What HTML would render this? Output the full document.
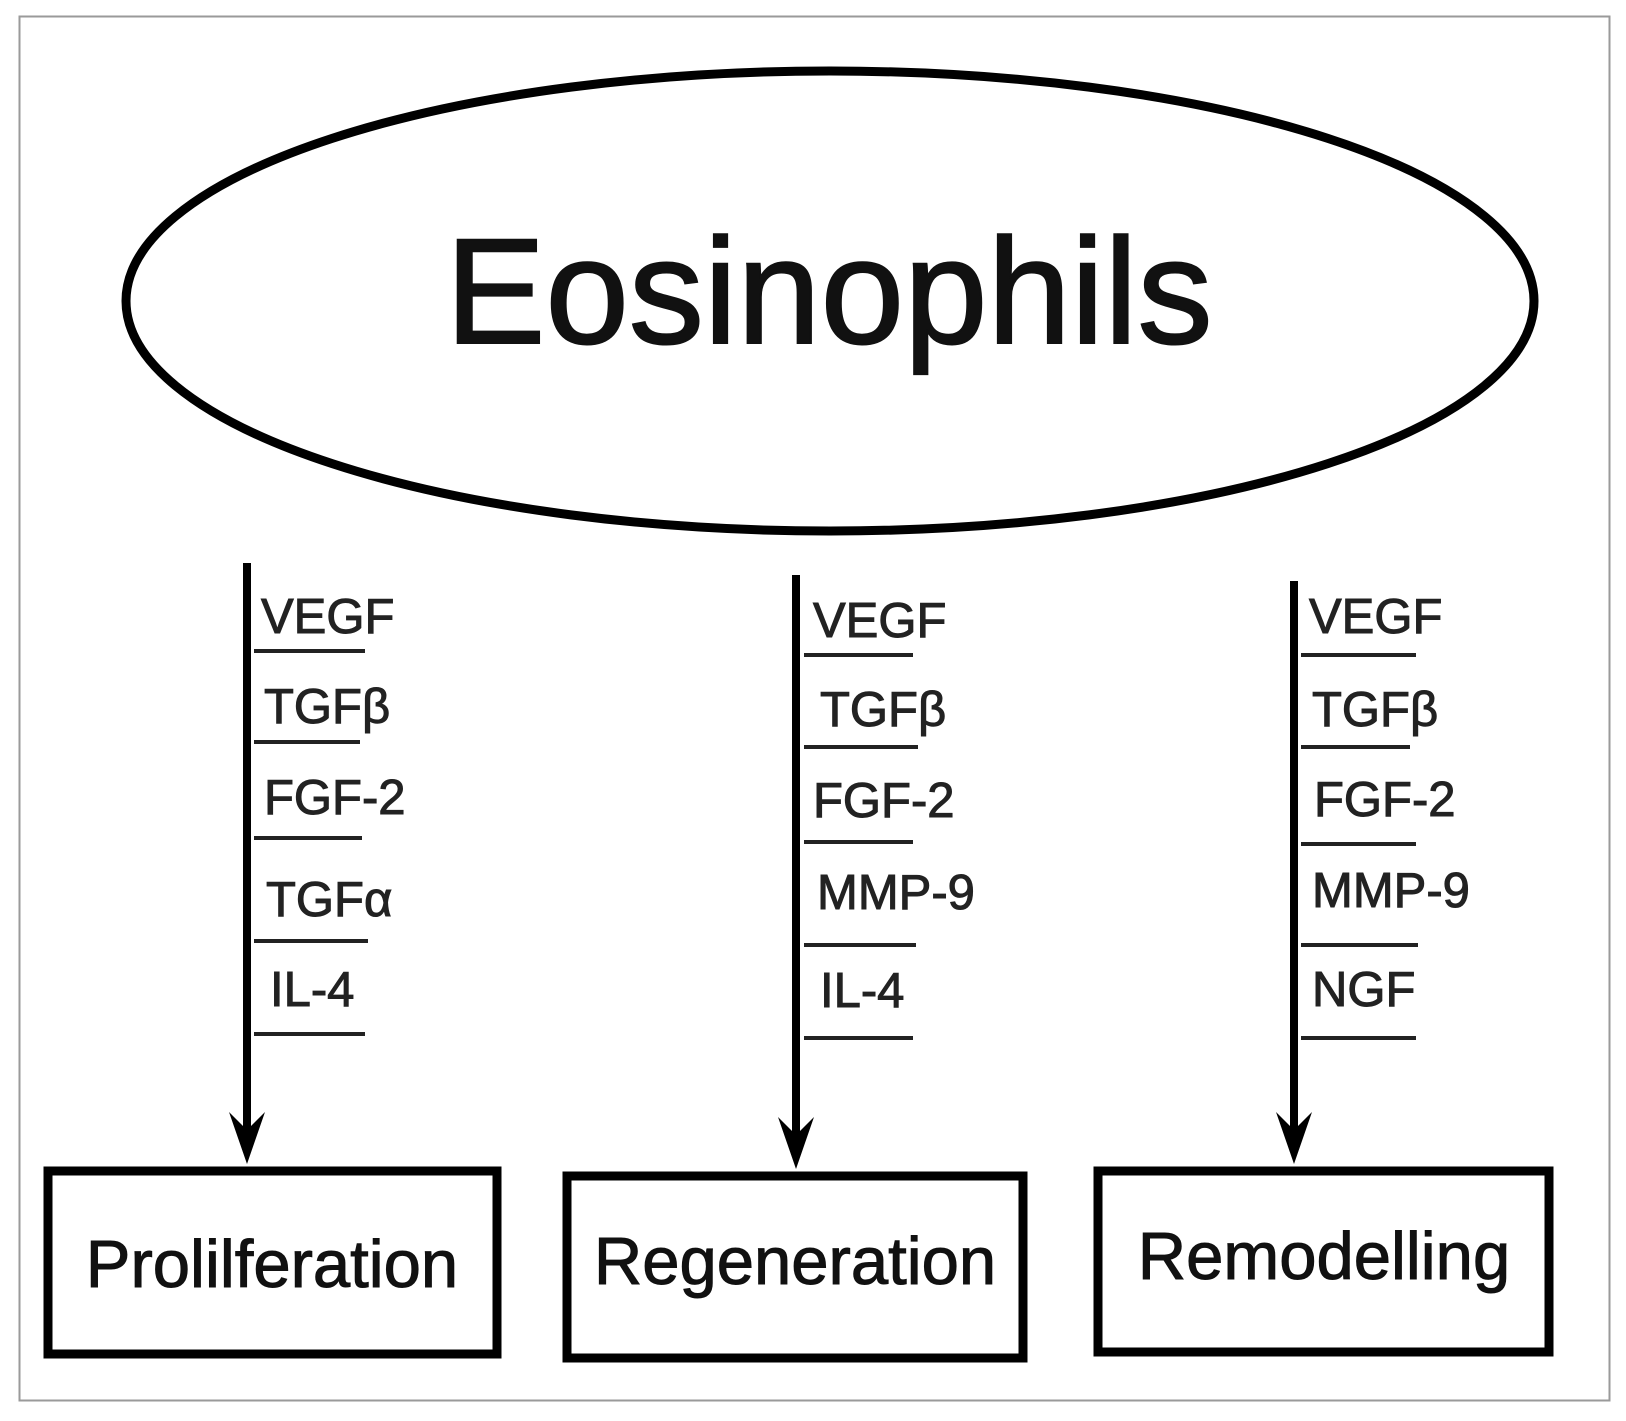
<!DOCTYPE html>
<html><head><meta charset="utf-8"><style>html,body{margin:0;padding:0;background:#fff}svg{display:block}</style></head>
<body>
<svg width="1626" height="1421" viewBox="0 0 1626 1421" xmlns="http://www.w3.org/2000/svg" font-family="Liberation Sans, sans-serif">
<rect x="19.5" y="16.5" width="1590" height="1384" fill="#fff" stroke="#9a9a9a" stroke-width="2"/>
<ellipse cx="830" cy="301" rx="704" ry="230" fill="#fff" stroke="#000" stroke-width="9"/>
<text x="829" y="343" font-size="150" text-anchor="middle" fill="#111" stroke="#111" stroke-width="2">Eosinophils</text>
<g stroke="#000" stroke-width="8" fill="none">
<line x1="247" y1="563" x2="247" y2="1150"/>
<line x1="796" y1="575" x2="796" y2="1155"/>
<line x1="1294" y1="581" x2="1294" y2="1150"/>
</g>
<g fill="#000">
<path d="M247 1164 L229 1112 L247 1130 L265 1112 Z"/>
<path d="M796 1169 L778 1117 L796 1135 L814 1117 Z"/>
<path d="M1294 1164 L1276 1112 L1294 1130 L1312 1112 Z"/>
</g>
<g stroke="#222" stroke-width="4">
<line x1="254" y1="651" x2="365" y2="651"/><line x1="254" y1="742" x2="360" y2="742"/><line x1="254" y1="838" x2="362" y2="838"/><line x1="254" y1="941" x2="368" y2="941"/><line x1="254" y1="1034" x2="365" y2="1034"/>
<line x1="804" y1="655" x2="913" y2="655"/><line x1="804" y1="747" x2="918" y2="747"/><line x1="804" y1="842" x2="913" y2="842"/><line x1="804" y1="945" x2="916" y2="945"/><line x1="804" y1="1038" x2="913" y2="1038"/>
<line x1="1301" y1="655" x2="1416" y2="655"/><line x1="1301" y1="747" x2="1410" y2="747"/><line x1="1301" y1="844" x2="1416" y2="844"/><line x1="1301" y1="945" x2="1418" y2="945"/><line x1="1301" y1="1038" x2="1416" y2="1038"/>
</g>
<g font-size="49" fill="#222" stroke="#222" stroke-width="1">
<text x="261" y="633">VEGF</text><text x="264" y="723">TGFβ</text><text x="264" y="814">FGF-2</text><text x="266" y="916">TGFα</text><text x="270" y="1006">IL-4</text>
<text x="813" y="637">VEGF</text><text x="820" y="726">TGFβ</text><text x="813" y="817">FGF-2</text><text x="817" y="909">MMP-9</text><text x="820" y="1007">IL-4</text>
<text x="1309" y="633">VEGF</text><text x="1312" y="726">TGFβ</text><text x="1314" y="816">FGF-2</text><text x="1312" y="907">MMP-9</text><text x="1312" y="1006">NGF</text>
</g>
<g fill="#fff" stroke="#000" stroke-width="9">
<rect x="48" y="1171" width="449" height="183"/>
<rect x="567" y="1176" width="456" height="182"/>
<rect x="1098" y="1171" width="451" height="181"/>
</g>
<g font-size="67" fill="#111" stroke="#111" stroke-width="1" text-anchor="middle">
<text x="272" y="1287">Prolilferation</text>
<text x="795" y="1284">Regeneration</text>
<text x="1324" y="1279">Remodelling</text>
</g>
</svg>
</body></html>
